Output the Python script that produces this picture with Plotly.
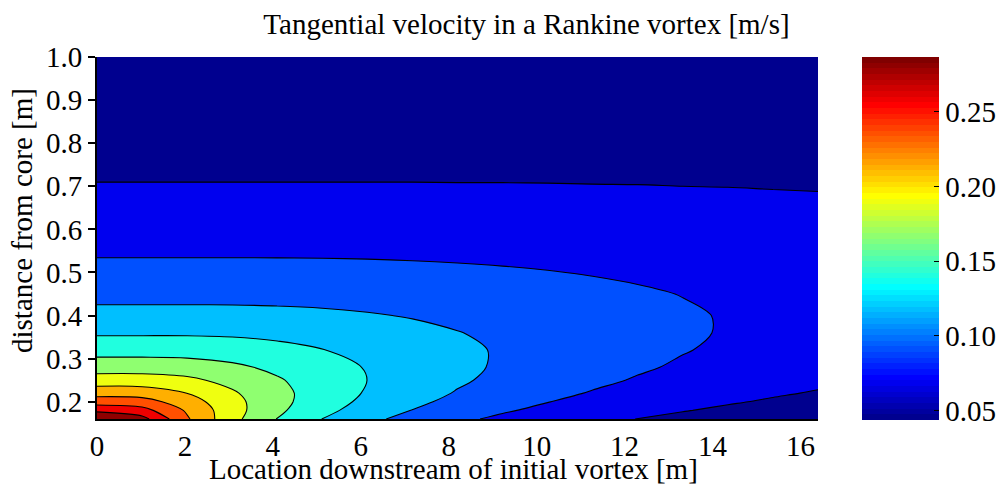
import plotly.graph_objects as go

# Downstream stations [m]
downstream_m = [0.0, 1.025, 2.05, 3.075, 4.1, 5.125, 6.15, 7.175, 8.2, 9.225,
                10.25, 11.275, 12.3, 13.325, 14.35, 15.375, 16.4]

# Radial stations, distance from the vortex core [m]
radius_m = [0.16, 0.18, 0.20, 0.22, 0.25, 0.28, 0.32, 0.36, 0.40, 0.45,
            0.50, 0.60, 0.70, 0.80, 0.90, 1.00]

# Tangential velocity [m/s]: one list per downstream station, ordered like radius_m
velocity_by_station = [
    [0.2913, 0.2589, 0.2330, 0.2118, 0.1864, 0.1664, 0.1456, 0.1294, 0.1165, 0.1036, 0.0932, 0.0777, 0.0666, 0.0583, 0.0518, 0.0466],
    [0.2724, 0.2508, 0.2298, 0.2106, 0.1862, 0.1664, 0.1456, 0.1294, 0.1165, 0.1036, 0.0932, 0.0777, 0.0666, 0.0583, 0.0518, 0.0466],
    [0.2231, 0.2177, 0.2089, 0.1982, 0.1810, 0.1645, 0.1452, 0.1294, 0.1165, 0.1036, 0.0932, 0.0777, 0.0666, 0.0583, 0.0518, 0.0466],
    [0.1828, 0.1847, 0.1832, 0.1791, 0.1697, 0.1584, 0.1428, 0.1286, 0.1163, 0.1035, 0.0932, 0.0777, 0.0666, 0.0583, 0.0518, 0.0466],
    [0.1535, 0.1585, 0.1607, 0.1604, 0.1564, 0.1496, 0.1383, 0.1265, 0.1154, 0.1033, 0.0931, 0.0777, 0.0666, 0.0583, 0.0518, 0.0466],
    [0.1318, 0.1382, 0.1422, 0.1440, 0.1436, 0.1402, 0.1326, 0.1233, 0.1138, 0.1027, 0.0929, 0.0777, 0.0666, 0.0583, 0.0518, 0.0466],
    [0.1154, 0.1222, 0.1271, 0.1302, 0.1320, 0.1309, 0.1263, 0.1194, 0.1115, 0.1016, 0.0925, 0.0776, 0.0666, 0.0583, 0.0518, 0.0466],
    [0.1025, 0.1094, 0.1147, 0.1185, 0.1217, 0.1223, 0.1199, 0.1150, 0.1088, 0.1002, 0.0918, 0.0775, 0.0666, 0.0583, 0.0518, 0.0466],
    [0.0921, 0.0989, 0.1044, 0.1086, 0.1128, 0.1145, 0.1138, 0.1106, 0.1057, 0.0984, 0.0909, 0.0773, 0.0665, 0.0583, 0.0518, 0.0466],
    [0.0837, 0.0902, 0.0957, 0.1001, 0.1049, 0.1074, 0.1081, 0.1061, 0.1025, 0.0965, 0.0898, 0.0770, 0.0665, 0.0582, 0.0518, 0.0466],
    [0.0766, 0.0829, 0.0884, 0.0929, 0.0979, 0.1011, 0.1027, 0.1018, 0.0992, 0.0943, 0.0885, 0.0766, 0.0664, 0.0582, 0.0518, 0.0466],
    [0.0707, 0.0768, 0.0820, 0.0866, 0.0918, 0.0953, 0.0977, 0.0977, 0.0960, 0.0921, 0.0870, 0.0761, 0.0662, 0.0582, 0.0518, 0.0466],
    [0.0655, 0.0714, 0.0766, 0.0810, 0.0864, 0.0902, 0.0931, 0.0938, 0.0928, 0.0898, 0.0855, 0.0755, 0.0661, 0.0582, 0.0518, 0.0466],
    [0.0611, 0.0667, 0.0717, 0.0761, 0.0815, 0.0855, 0.0888, 0.0901, 0.0898, 0.0875, 0.0839, 0.0748, 0.0658, 0.0581, 0.0518, 0.0466],
    [0.0572, 0.0626, 0.0675, 0.0718, 0.0772, 0.0813, 0.0849, 0.0867, 0.0868, 0.0852, 0.0822, 0.0741, 0.0656, 0.0580, 0.0517, 0.0466],
    [0.0539, 0.0590, 0.0637, 0.0679, 0.0732, 0.0774, 0.0813, 0.0834, 0.0840, 0.0830, 0.0805, 0.0733, 0.0652, 0.0579, 0.0517, 0.0466],
    [0.0508, 0.0558, 0.0603, 0.0644, 0.0697, 0.0739, 0.0780, 0.0804, 0.0813, 0.0808, 0.0789, 0.0724, 0.0649, 0.0578, 0.0517, 0.0466],
]

# Contour levels [m/s]
level_start = 0.0658
level_step = 0.0221
level_count = 10

# Tick values
x_ticks = [0, 2, 4, 6, 8, 10, 12, 14, 16]
y_ticks = [0.2, 0.3, 0.4, 0.5, 0.6, 0.7, 0.8, 0.9, 1.0]
cbar_ticks = [0.05, 0.10, 0.15, 0.20, 0.25]

FONT = "Liberation Serif"
FS = 29


def jet64():
    """64-entry jet colour map as rgb strings."""
    def clip(v):
        return max(0.0, min(1.0, v))
    out = []
    for i in range(1, 65):
        r = min(clip((i - 24) / 16), clip((72 - i) / 16))
        g = min(clip((i - 8) / 16), clip((56 - i) / 16))
        b = min(clip((i + 8) / 16), clip((40 - i) / 16))
        out.append(f"rgb({round(r * 255)},{round(g * 255)},{round(b * 255)})")
    return out


JET = jet64()

# Stepped colour scale for the colour bar (64 flat steps)
jet_steps = []
for i, c in enumerate(JET):
    jet_steps.append([i / 64, c])
    jet_steps.append([(i + 1) / 64 - (1e-9 if i < 63 else 0), c])

# Fill colour of each band, from below the first level to above the last
band_jet_index = [1, 7, 13, 20, 26, 33, 39, 45, 51, 57, 63]
band_scale = [[k / (len(band_jet_index) - 1), JET[idx - 1]]
              for k, idx in enumerate(band_jet_index)]

# Grid as rows of radius, columns of downstream position
z = [[velocity_by_station[j][i] for j in range(len(downstream_m))]
     for i in range(len(radius_m))]

cmin = level_start - level_step
cmax = level_start + level_count * level_step

fig = go.Figure()

fig.add_trace(go.Contour(
    x=downstream_m,
    y=radius_m,
    z=z,
    autocontour=False,
    contours=dict(start=level_start,
                  end=level_start + (level_count - 1) * level_step,
                  size=level_step,
                  coloring="fill"),
    colorscale=band_scale,
    showscale=False,
    line=dict(color="black", width=1.1, smoothing=0.9),
    hoverinfo="skip",
))

# Continuous colour bar spanning the velocity range
fig.add_trace(go.Scatter(
    x=[None], y=[None], mode="markers", showlegend=False, hoverinfo="skip",
    marker=dict(
        color=[cmin], cmin=cmin, cmax=cmax, colorscale=jet_steps,
        showscale=True,
        colorbar=dict(
            x=(862 - 97) / 721, xref="paper", xanchor="left", xpad=0,
            y=1, yanchor="top", ypad=0,
            len=363, lenmode="pixels",
            thickness=77, thicknessmode="pixels",
            outlinewidth=0,
            ticks="inside", ticklen=5, tickwidth=1, tickcolor="black",
            tickvals=cbar_ticks,
            ticktext=[f"{v:.2f}" for v in cbar_ticks],
            tickfont=dict(family=FONT, size=FS, color="black"),
        ),
    ),
))

fig.update_layout(
    width=997, height=484,
    margin=dict(l=97, r=179, t=57, b=65, autoexpand=False),
    paper_bgcolor="white", plot_bgcolor="white",
    title=dict(text="Tangential velocity in a Rankine vortex [m/s]",
               x=526.5 / 997, xref="container", xanchor="center",
               y=1 - 24 / 484, yref="container", yanchor="middle",
               font=dict(family=FONT, size=FS, color="black")),
    xaxis=dict(range=[0, 16.4], tickvals=x_ticks,
               ticktext=[str(v) for v in x_ticks],
               ticks="", showgrid=False, zeroline=False,
               showline=True, linecolor="black", linewidth=1.5,
               tickfont=dict(family=FONT, size=FS, color="black")),
    yaxis=dict(range=[0.16, 1.0], tickvals=y_ticks,
               ticktext=[f"{v:.1f}" for v in y_ticks],
               ticks="outside", ticklen=7, tickwidth=1.5, tickcolor="black",
               showgrid=False, zeroline=False,
               showline=True, linecolor="black", linewidth=2,
               tickfont=dict(family=FONT, size=FS, color="black")),
    annotations=[
        dict(text="Location downstream of initial vortex [m]",
             x=(453.4 - 97) / 721, xref="paper", xanchor="center",
             y=(419 - 469) / 362, yref="paper", yanchor="middle",
             showarrow=False, font=dict(family=FONT, size=FS, color="black")),
        dict(text="distance from core [m]", textangle=-90,
             x=(22 - 97) / 721, xref="paper", xanchor="center",
             y=(419 - 221) / 362, yref="paper", yanchor="middle",
             showarrow=False, font=dict(family=FONT, size=FS, color="black")),
    ],
)

fig.write_html("out.html")
